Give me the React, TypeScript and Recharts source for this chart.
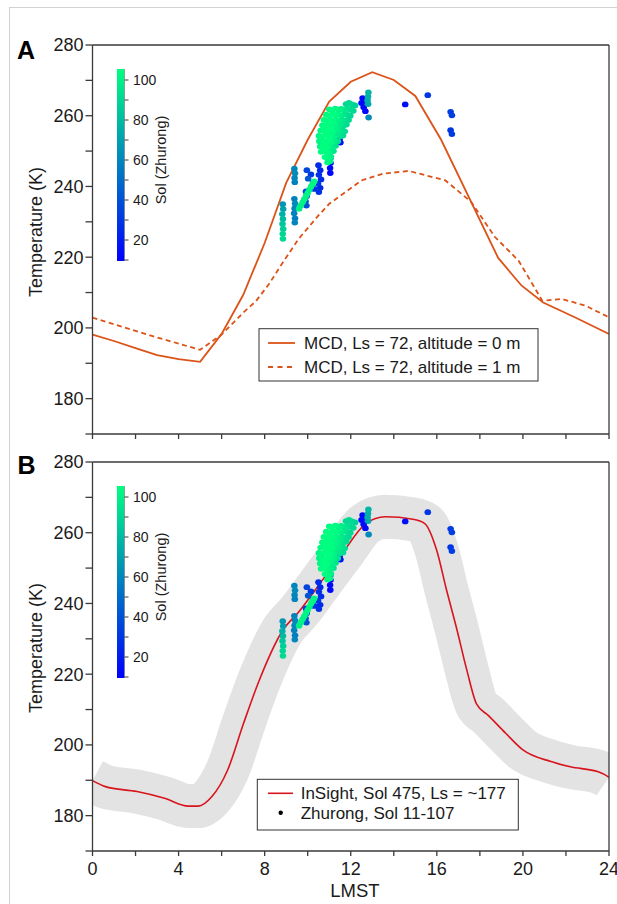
import {ComposedChart, Line, Scatter, XAxis, YAxis} from "recharts";

// LMST hours / kelvin
const hourTicks = [0, 2, 4, 6, 8, 10, 12, 14, 16, 18, 20, 22, 24];
const tempTicks = [170, 180, 190, 200, 210, 220, 230, 240, 250, 260, 270, 280];
const solTicks = [10, 20, 30, 40, 50, 60, 70, 80, 90, 100];
const solLabels = [20, 40, 60, 80, 100];
const SOL_MIN = 9.5;
const SOL_MAX = 105.5;

// MCD, Ls = 72, altitude 0 m  [LMST, K]
const mcdGround = [
  [0, 198.1], [1, 196.3], [2, 194.3], [3, 192.3], [4, 191.2], [5, 190.4],
  [6, 198.3], [7, 209.3], [8, 224], [9, 241], [10, 253.2], [11, 264],
  [12, 269.6], [13, 272.3], [14, 270.1], [15, 265.6], [16.2, 253.2],
  [18.85, 219.8], [19.93, 212], [20.94, 207.2], [22.41, 203], [24, 198.3],
];

// MCD, Ls = 72, altitude 1 m
const mcdOneMetre = [
  [0, 202.9], [2.5, 198.2], [5, 193.8], [6, 198.1], [7, 204.3], [7.6, 207.6],
  [8.2, 212.4], [8.8, 218.1], [9.58, 225.2], [10.5, 231.8], [11, 235.1],
  [12.5, 241.7], [13.5, 243.6], [14.7, 244.4], [15.2, 243.6], [16.4, 241.7],
  [17.6, 235.6], [18.7, 225.7], [19.8, 219], [20.9, 207.7], [21.8, 208.2],
  [22.9, 206.3], [24, 203],
];

// InSight, Sol 475
const insight = [
  [0, 189.9], [0.6, 188.2], [2.07, 186.8], [3.35, 184.9], [4.45, 182.7],
  [4.91, 182.7], [5.55, 185.4], [6.28, 192.9], [7.02, 206.1], [7.75, 218.3],
  [8.85, 232.5], [9.58, 237.6], [10.68, 246.6], [11.6, 254.1], [12.7, 262.6],
  [13.6, 264.5], [14.89, 263.8], [15.44, 262.6], [15.99, 255.1], [16.45, 243.8],
  [16.9, 233.4], [17.4, 221], [17.85, 211.5], [18.4, 208.3], [19.2, 203.3],
  [20.0, 198.6], [21.3, 195.3], [22.2, 193.8], [23.5, 192.4], [23.8, 191.6],
  [24, 190.8],
];

// Zhurong  [LMST, K, sol]
const zhurong = [
  [8.84, 235.0, 66], [8.86, 233.6, 70], [8.82, 232.2, 76], [8.85, 230.8, 80],
  [8.83, 229.4, 84], [8.86, 228.0, 87], [8.84, 226.6, 90], [8.85, 225.2, 92],
  [9.38, 245.0, 60], [9.41, 243.7, 62], [9.39, 242.4, 60], [9.40, 241.2, 58],
  [9.38, 236.5, 58], [9.41, 235.2, 62], [9.39, 233.8, 60], [9.37, 232.4, 58],
  [9.41, 231.0, 56], [9.40, 229.8, 60],
  [9.96, 244.6, 36], [10.02, 242.2, 42], [9.92, 238.6, 36], [9.95, 237.2, 34],
  [9.90, 235.8, 38], [9.94, 234.6, 40], [10.15, 243.4, 30], [10.25, 241.0, 32],
  [10.3, 239.3, 28],
  [9.60, 233.7, 100], [9.68, 234.6, 100], [9.76, 235.5, 101], [9.84, 236.4, 101],
  [9.92, 237.3, 102], [10.0, 238.2, 102], [10.08, 239.1, 102], [10.16, 240.0, 103],
  [10.24, 240.8, 103], [10.3, 241.4, 103],
  [10.50, 246.0, 26], [10.58, 244.6, 24], [10.52, 243.3, 28], [10.62, 242.0, 26],
  [10.48, 240.8, 30], [10.58, 239.6, 25], [10.52, 238.4, 28],
  [11.05, 248.0, 12], [11.06, 246.6, 12], [11.04, 245.2, 13], [11.05, 243.8, 12],
  [11.78, 263.3, 90], [11.92, 263.6, 92], [12.06, 263.2, 90], [12.2, 262.9, 88],
  [11.0, 261.8, 104], [11.14, 261.5, 105], [11.28, 262.0, 103], [11.42, 261.7, 101],
  [11.56, 261.9, 99], [11.7, 261.6, 96], [11.84, 262.0, 94], [11.98, 261.7, 92],
  [12.12, 261.4, 90],
  [10.86, 260.3, 105], [11.0, 260.0, 106], [11.14, 260.5, 105], [11.28, 260.2, 104],
  [11.42, 260.4, 102], [11.56, 260.1, 99], [11.7, 260.4, 96], [11.84, 260.2, 93],
  [11.98, 260.0, 91],
  [10.75, 258.8, 105], [10.89, 258.5, 106], [11.03, 259.0, 105], [11.17, 258.7, 104],
  [11.31, 258.9, 102], [11.45, 258.6, 100], [11.59, 258.9, 97], [11.73, 258.6, 94],
  [11.9, 258.8, 92],
  [10.68, 257.3, 104], [10.82, 257.0, 106], [10.96, 257.5, 105], [11.1, 257.2, 104],
  [11.24, 257.4, 103], [11.38, 257.1, 100], [11.52, 257.4, 97], [11.66, 257.2, 94],
  [11.8, 257.5, 92],
  [10.6, 255.8, 103], [10.74, 256.1, 105], [10.88, 255.5, 106], [11.02, 255.9, 105],
  [11.16, 255.6, 104], [11.3, 256.0, 101], [11.44, 255.7, 98], [11.6, 255.9, 95],
  [11.72, 255.6, 93],
  [10.52, 254.3, 102], [10.66, 254.0, 104], [10.8, 254.5, 106], [10.94, 254.2, 105],
  [11.08, 254.4, 104], [11.22, 254.1, 101], [11.36, 254.5, 97], [11.5, 254.2, 94],
  [11.64, 254.4, 92],
  [10.54, 252.8, 101], [10.68, 253.1, 104], [10.82, 252.6, 106], [10.96, 253.0, 105],
  [11.1, 252.7, 103], [11.24, 253.0, 99], [11.4, 252.8, 95],
  [10.58, 251.3, 102], [10.72, 251.6, 105], [10.86, 251.1, 106], [11.0, 251.5, 103],
  [11.14, 251.2, 99], [11.3, 251.5, 95],
  [10.62, 249.8, 104], [10.76, 250.1, 106], [10.9, 249.6, 104], [11.04, 249.9, 100],
  [11.2, 250.0, 96],
  [10.8, 248.3, 105], [10.94, 248.0, 103], [11.08, 248.4, 100],
  [10.92, 246.8, 104], [11.04, 247.1, 101],
  [11.48, 253.2, 14], [11.52, 252.4, 15],
  [12.55, 265.0, 12], [12.62, 264.2, 11], [12.5, 263.6, 12], [12.6, 262.4, 13],
  [12.68, 261.3, 12],
  [12.82, 266.6, 78], [12.80, 265.4, 76], [12.78, 264.3, 74], [12.81, 263.3, 72],
  [12.83, 259.5, 62],
  [14.53, 263.2, 15], [15.58, 265.8, 30], [16.64, 261.1, 32], [16.70, 260.1, 33],
  [16.64, 255.9, 30], [16.70, 254.8, 32],
];

const toPts = (rows: number[][]) => rows.map(([h, T]) => ({h, T}));
// higher sols drawn on top
const zhurongPts = zhurong
  .map(([h, T, sol]) => ({h, T, sol}))
  .sort((a, b) => a.sol - b.sol);

const AX = "#3a3a3a";
const TXT = "#1a1a1a";
const MCD = "#dc5318";
const RED = "#d8141c";

function winter(sol: number) {
  const t = Math.min(1, Math.max(0, (sol - SOL_MIN) / (SOL_MAX - SOL_MIN)));
  return `rgb(0,${Math.round(255 * t)},${Math.round(255 * (1 - t / 2))})`;
}

function Dot(p: any) {
  const sol = p.payload?.sol ?? p.sol;
  return <ellipse cx={p.cx} cy={p.cy} rx={3.3} ry={2.9} fill={winter(sol)} />;
}

const axisStyle = {stroke: AX, strokeWidth: 1.3};

function Axes({labels}: {labels: boolean}) {
  return [
    <XAxis
      key="x"
      xAxisId="x"
      dataKey="h"
      type="number"
      domain={[0, 24]}
      ticks={hourTicks}
      interval={0}
      allowDataOverflow
      height={labels ? 40 : 5}
      tickSize={5}
      tickMargin={6}
      axisLine={axisStyle}
      tickLine={axisStyle}
      tick={{fontSize: 18, fill: TXT}}
      tickFormatter={(v: number) => (labels && v % 4 === 0 ? String(v) : "")}
    />,
    <XAxis
      key="xt"
      xAxisId="xt"
      orientation="top"
      type="number"
      domain={[0, 24]}
      ticks={hourTicks}
      interval={0}
      height={5}
      tickSize={5}
      axisLine={axisStyle}
      tickLine={axisStyle}
      tickFormatter={() => ""}
    />,
    <YAxis
      key="y"
      yAxisId="y"
      dataKey="T"
      type="number"
      domain={[170, 280]}
      ticks={tempTicks}
      interval={0}
      width={92.5}
      tickSize={7}
      tickMargin={2}
      axisLine={axisStyle}
      tickLine={axisStyle}
      tick={{fontSize: 18, fill: TXT}}
      tickFormatter={(v: number) => (v % 20 === 0 ? String(v) : "")}
    />,
    <YAxis
      key="yr"
      yAxisId="yr"
      orientation="right"
      type="number"
      domain={[170, 280]}
      ticks={tempTicks}
      interval={0}
      width={1}
      tickSize={5}
      axisLine={axisStyle}
      tickLine={axisStyle}
      tickFormatter={() => ""}
    />,
  ];
}

function Colorbar({dy}: {dy: number}) {
  const yOf = (s: number) => 261 + dy - (s - SOL_MIN) * 2;
  return (
    <g>
      <rect x={117} y={69 + dy} width={7.5} height={192} fill="url(#winter)" />
      <line x1={124.5} x2={124.5} y1={69 + dy} y2={261 + dy} stroke="#777" strokeWidth={0.6} />
      {solTicks.map((s) => (
        <line key={s} x1={124.5} x2={128.5} y1={yOf(s)} y2={yOf(s)} stroke={AX} strokeWidth={1} />
      ))}
      {solLabels.map((s) => (
        <text key={s} x={133} y={yOf(s) + 5} fontSize={14} fill={TXT}>
          {s}
        </text>
      ))}
      <text
        transform={`translate(166,${160 + dy}) rotate(-90)`}
        textAnchor="middle"
        fontSize={14.5}
        fill={TXT}
      >
        Sol (Zhurong)
      </text>
    </g>
  );
}

export default function App() {
  return (
    <div
      style={{
        position: "absolute",
        left: 0,
        top: 0,
        width: 617,
        height: 904,
        overflow: "hidden",
        background: "#fff",
        fontFamily: "'Liberation Sans', Arial, sans-serif",
      }}
    >
      <div
        style={{
          position: "absolute",
          left: 9,
          top: 7,
          width: 700,
          height: 1000,
          border: "1px solid #d2d2d2",
        }}
      />

      {/* A */}
      <div style={{position: "absolute", left: 0, top: 0}}>
        <ComposedChart width={617} height={460} margin={{top: 40, right: 7, bottom: 21, left: 0}}>
          {Axes({labels: false})}
          <Line
            xAxisId="x"
            yAxisId="y"
            data={toPts(mcdGround)}
            dataKey="T"
            type="linear"
            stroke={MCD}
            strokeWidth={1.8}
            dot={false}
            isAnimationActive={false}
          />
          <Line
            xAxisId="x"
            yAxisId="y"
            data={toPts(mcdOneMetre)}
            dataKey="T"
            type="linear"
            stroke={MCD}
            strokeWidth={1.8}
            strokeDasharray="5 3.5"
            dot={false}
            isAnimationActive={false}
          />
          <Scatter
            xAxisId="x"
            yAxisId="y"
            data={zhurongPts}
            dataKey="T"
            shape={Dot}
            isAnimationActive={false}
          />
        </ComposedChart>
      </div>

      {/* B */}
      <div style={{position: "absolute", left: 0, top: 420}}>
        <ComposedChart width={617} height={484} margin={{top: 37, right: 7, bottom: 13, left: 0}}>
          {Axes({labels: true})}
          <Line
            xAxisId="x"
            yAxisId="y"
            data={toPts(insight)}
            dataKey="T"
            type="monotone"
            stroke="#e3e3e3"
            strokeWidth={44}
            strokeLinejoin="round"
            dot={false}
            isAnimationActive={false}
          />
          <Line
            xAxisId="x"
            yAxisId="y"
            data={toPts(insight)}
            dataKey="T"
            type="monotone"
            stroke={RED}
            strokeWidth={1.6}
            dot={false}
            isAnimationActive={false}
          />
          <Scatter
            xAxisId="x"
            yAxisId="y"
            data={zhurongPts}
            dataKey="T"
            shape={Dot}
            isAnimationActive={false}
          />
        </ComposedChart>
      </div>

      <svg
        width={617}
        height={904}
        style={{position: "absolute", left: 0, top: 0, pointerEvents: "none"}}
      >
        <defs>
          <linearGradient id="winter" x1="0" y1="0" x2="0" y2="1">
            <stop offset="0" stopColor="rgb(0,255,128)" />
            <stop offset="1" stopColor="rgb(0,0,255)" />
          </linearGradient>
        </defs>

        <text x={17} y={59} fontSize={25} fontWeight="bold" fill="#000">A</text>
        <text x={17.5} y={473.5} fontSize={25} fontWeight="bold" fill="#000">B</text>

        <text transform="translate(42.3,232) rotate(-90)" textAnchor="middle" fontSize={18} fill={TXT}>
          Temperature (K)
        </text>
        <text transform="translate(42.3,648) rotate(-90)" textAnchor="middle" fontSize={18} fill={TXT}>
          Temperature (K)
        </text>
        <text x={355} y={896.5} textAnchor="middle" fontSize={18.5} fill={TXT}>
          LMST
        </text>

        <Colorbar dy={0} />
        <Colorbar dy={417} />

        {/* legend A */}
        <rect x={259} y={328.7} width={279} height={52.3} fill="#fff" stroke="#333" strokeWidth={1} />
        <line x1={268} x2={295} y1={343} y2={343} stroke={MCD} strokeWidth={1.8} />
        <text x={304} y={349} fontSize={17} fill={TXT}>MCD, Ls = 72, altitude = 0 m</text>
        <line x1={268} x2={295} y1={367} y2={367} stroke={MCD} strokeWidth={1.8} strokeDasharray="5 4.5" />
        <text x={304} y={373} fontSize={17} fill={TXT}>MCD, Ls = 72, altitude = 1 m</text>

        {/* legend B */}
        <rect x={257.3} y={779.3} width={261} height={50.7} fill="#fff" stroke="#333" strokeWidth={1} />
        <line x1={268} x2={293} y1={793.3} y2={793.3} stroke={RED} strokeWidth={1.6} />
        <text x={300.7} y={799.4} fontSize={17} fill={TXT}>InSight, Sol 475, Ls = ~177</text>
        <circle cx={280.7} cy={812.7} r={2.2} fill="#000" />
        <text x={300.7} y={818.8} fontSize={17} fill={TXT}>Zhurong, Sol 11-107</text>
      </svg>
    </div>
  );
}
